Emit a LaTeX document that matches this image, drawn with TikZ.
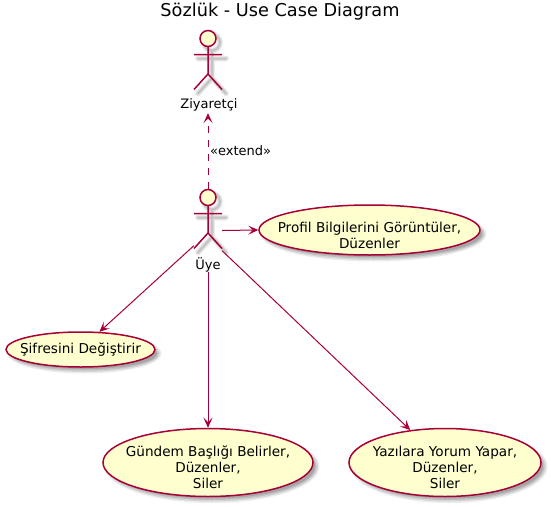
\documentclass[tikz,border=0pt]{standalone}
\usepackage{fontspec}
\setmainfont{DejaVu Sans}
\usetikzlibrary{arrows.meta,shapes.geometric,backgrounds}
\definecolor{umlline}{HTML}{A80036}
\definecolor{umlfill}{HTML}{FEFECE}
\definecolor{umlshadow}{HTML}{606060}
\tikzset{
  x=1pt,y=-1pt,
  umltext/.style={font=\fontsize{13.6}{16}\selectfont,text=black,inner sep=0pt,align=center},
  actortext/.style={font=\fontsize{13}{16}\selectfont,text=black,inner sep=0pt},
  casenode/.style={ellipse,draw=umlline,fill=umlfill,line width=1.5pt,inner sep=0pt},
  casetext/.style={umltext,yshift=-5pt},
  actorbox/.style={rectangle,inner sep=0pt,minimum width=28pt,minimum height=83pt},
  conn/.style={draw=umlline,line width=1pt,-{Stealth[length=10pt,width=9pt,inset=4.5pt]}},
  soft/.style={draw=umlshadow,line cap=round},
  pics/actorfig/.style={code={
    \foreach \w/\o in {6/0.10,4/0.14,2/0.18}{
      \draw[soft,line width=\w pt,opacity=\o,shift={(4,4)}]
        (0,-33) circle[radius=8] (-14,-17) -- (14,-17) (0,-25) -- (0,2.5) -- (-14,18) (0,2.5) -- (14,18);
    }
    \draw[umlline,fill=umlfill,line width=1.5pt] (0,-33) circle[radius=8];
    \draw[umlline,line width=1.5pt] (-14,-17) -- (14,-17) (0,-25) -- (0,2.5) -- (-14,18) (0,2.5) -- (14,18);
  }}
}
\begin{document}
\begin{tikzpicture}
\useasboundingbox (0,0) rectangle (551,506);
\node[font=\fontsize{17.7}{20}\selectfont,text=black,inner sep=0pt] (title) at (280,11.5) {Sözlük - Use Case Diagram};

\node[actorbox] (ziy) at (208,71.5) {};
\node[actorbox] (uye) at (208,230.5) {};
\pic at (ziy.center) {actorfig};
\pic at (uye.center) {actorfig};
\node[actortext] (ziylabel) at (209,104.5) {Ziyaretçi};
\node[actortext] (uyelabel) at (208,264.5) {Üye};

\node[casenode,minimum width=221pt,minimum height=50pt,label={[casetext]center:Profil Bilgilerini Görüntüler,\\Düzenler}] (profil) at (369.5,230) {};
\node[casenode,minimum width=149pt,minimum height=35pt,label={[umltext]center:Şifresini Değiştirir}] (sifre) at (80.5,349.5) {};
\node[casenode,minimum width=210pt,minimum height=68pt,label={[casetext]center:Gündem Başlığı Belirler,\\Düzenler,\\Siler}] (gundem) at (208,462.5) {};
\node[casenode,minimum width=192pt,minimum height=68pt,label={[casetext]center:Yazılara Yorum Yapar,\\Düzenler,\\Siler}] (yazi) at (445,462.5) {};

\begin{scope}[on background layer]
\foreach \n/\rx/\ry in {profil/110.5/25,sifre/74.5/17.5,gundem/105/34,yazi/96/34}{
  \foreach \g/\o in {2.5/0.12,1/0.16,-0.5/0.2,-2/0.25}{
    \fill[umlshadow,opacity=\o] ([shift={(4,4)}]\n.center) ellipse[x radius=\rx+\g,y radius=\ry+\g];
  }
}
\end{scope}

\draw[conn,dash pattern=on 7pt off 7pt] (uye.north) -- (ziy.south);
\node[actortext,anchor=west] (extendlabel) at (210,150.5) {«extend»};
\draw[conn] (uye.east) -- (profil.west);
\draw[conn] (uye.227.9) -- (sifre.43.4);
\draw[conn] (uye.south) -- (gundem.north);
\draw[conn] (uye.-55.7) -- (yazi.137.6);
\end{tikzpicture}
\end{document}
